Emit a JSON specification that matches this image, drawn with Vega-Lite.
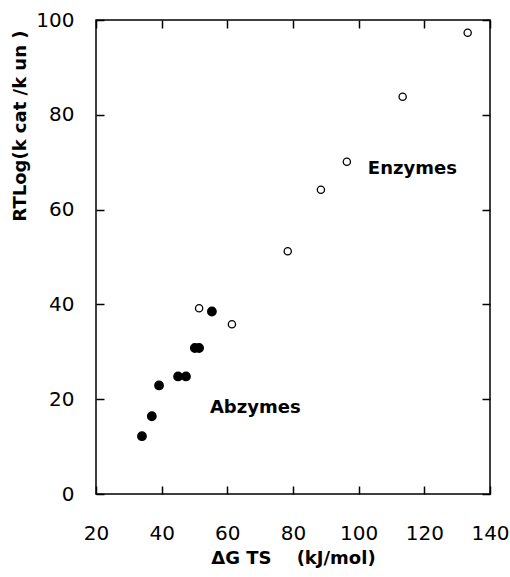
{
  "$schema": "https://vega.github.io/schema/vega-lite/v6.json",
  "width": 394,
  "height": 474,
  "autosize": {"type": "none"},
  "padding": {"left": 96, "top": 20, "right": 20, "bottom": 83},
  "background": "white",
  "config": {
    "view": {"stroke": "black", "strokeWidth": 1.5},
    "axis": {
      "domain": false,
      "grid": false,
      "tickColor": "black",
      "tickWidth": 1.5,
      "tickSize": -8,
      "labelFlush": false,
      "labelColor": "black",
      "labelFont": "DejaVu Sans",
      "labelFontSize": 20,
      "labelFontWeight": "normal",
      "titleColor": "black",
      "titleFont": "DejaVu Sans",
      "titleFontSize": 18,
      "titleFontWeight": "bold"
    }
  },
  "datasets": {
    "points": [
      {"dG": 133.2, "rtlog": 97.3, "type": "Enzyme"},
      {"dG": 113.4, "rtlog": 83.8, "type": "Enzyme"},
      {"dG": 96.4, "rtlog": 70.1, "type": "Enzyme"},
      {"dG": 88.5, "rtlog": 64.2, "type": "Enzyme"},
      {"dG": 78.4, "rtlog": 51.2, "type": "Enzyme"},
      {"dG": 51.4, "rtlog": 39.2, "type": "Enzyme"},
      {"dG": 61.4, "rtlog": 35.8, "type": "Enzyme"},
      {"dG": 34.0, "rtlog": 12.2, "type": "Abzyme"},
      {"dG": 37.0, "rtlog": 16.4, "type": "Abzyme"},
      {"dG": 39.2, "rtlog": 22.9, "type": "Abzyme"},
      {"dG": 45.0, "rtlog": 24.8, "type": "Abzyme"},
      {"dG": 47.4, "rtlog": 24.8, "type": "Abzyme"},
      {"dG": 50.1, "rtlog": 30.8, "type": "Abzyme"},
      {"dG": 51.4, "rtlog": 30.8, "type": "Abzyme"},
      {"dG": 55.3, "rtlog": 38.5, "type": "Abzyme"}
    ],
    "labels": [
      {"dG": 102.8, "rtlog": 68.6, "label": "Enzymes"},
      {"dG": 54.7, "rtlog": 18.1, "label": "Abzymes"}
    ]
  },
  "resolve": {"axis": {"x": "independent", "y": "independent"}},
  "layer": [
    {
      "data": {"name": "points"},
      "mark": {"type": "point", "shape": "circle", "filled": false, "stroke": "black", "strokeWidth": 1.3, "opacity": 1},
      "encoding": {
        "x": {"field": "dG", "type": "quantitative", "scale": {"domain": [20, 140], "nice": false, "zero": false},
              "axis": {"orient": "bottom", "values": [20, 40, 60, 80, 100, 120, 140], "labelPadding": 37, "title": "ΔG\u00a0TS\u00a0\u00a0\u00a0\u00a0(kJ/mol)", "titlePadding": 6}},
        "y": {"field": "rtlog", "type": "quantitative", "scale": {"domain": [0, 100], "nice": false},
              "axis": {"orient": "left", "values": [0, 20, 40, 60, 80, 100], "labelPadding": 30, "title": "RTLog(k\u00a0cat\u00a0/k\u00a0un\u00a0)", "titleAnchor": "end", "titleY": 10, "titlePadding": 6}},
        "fill": {"field": "type", "type": "nominal", "scale": {"domain": ["Abzyme", "Enzyme"], "range": ["black", "white"]}, "legend": null},
        "size": {"field": "type", "type": "nominal", "scale": {"domain": ["Abzyme", "Enzyme"], "range": [72, 52]}, "legend": null}
      }
    },
    {
      "data": {"name": "points"},
      "mark": {"type": "point", "opacity": 0},
      "encoding": {
        "x": {"field": "dG", "type": "quantitative", "scale": {"domain": [20, 140], "nice": false, "zero": false},
              "axis": {"orient": "top", "values": [20, 40, 60, 80, 100, 120, 140], "labels": false, "title": null}},
        "y": {"field": "rtlog", "type": "quantitative", "scale": {"domain": [0, 100], "nice": false},
              "axis": {"orient": "right", "values": [0, 20, 40, 60, 80, 100], "labels": false, "title": null}}
      }
    },
    {
      "data": {"name": "labels"},
      "mark": {"type": "text", "align": "left", "baseline": "middle", "font": "DejaVu Sans", "fontSize": 18, "fontWeight": "bold", "color": "black"},
      "encoding": {
        "x": {"field": "dG", "type": "quantitative", "axis": null},
        "y": {"field": "rtlog", "type": "quantitative", "axis": null},
        "text": {"field": "label"}
      }
    }
  ]
}
